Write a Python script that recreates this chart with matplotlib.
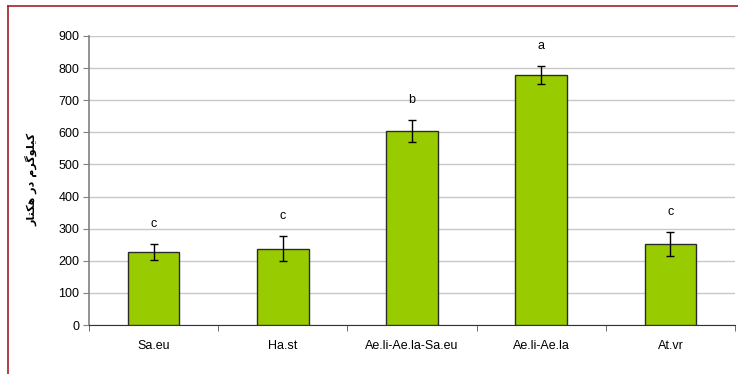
import numpy as np
import matplotlib.pyplot as plt
from matplotlib.lines import Line2D

plt.rcParams['font.family'] = ['Liberation Sans', 'DejaVu Sans']

groups = ['Sa.eu', 'Ha.st', 'Ae.li-Ae.la-Sa.eu', 'Ae.li-Ae.la', 'At.vr']
yields = [227, 237, 604, 778, 252]
errors = [26, 39, 35, 29, 38]
letters = ['c', 'c', 'b', 'a', 'c']
yticks = [0, 100, 200, 300, 400, 500, 600, 700, 800, 900]

# Persian label "کیلوگرم در هکتار" in presentation forms, visual order
ylab = '\uFEAD\uFE8E\uFE98\uFB91\uFEEB \uFEAD\uFEA9 \uFEE1\uFEAE\uFB94\uFEEE\uFEE0\uFBFF\uFB90'

fig = plt.figure(figsize=(7.38, 3.74), dpi=100)
ax = fig.add_axes([0.1206, 0.131, 0.8754, 0.773])

x = np.arange(len(groups))
ax.bar(x, yields, width=0.4, color='#99CC00', edgecolor='#2b2b2b', linewidth=1, zorder=3)
ax.errorbar(x, yields, yerr=errors, fmt='none', ecolor='black', elinewidth=1,
            capsize=3, capthick=1, zorder=4)
for i in range(len(groups)):
    ax.text(x[i], yields[i] + errors[i] + 62, letters[i], ha='center', va='center',
            fontsize=9)

ax.set_xlim(-0.5, len(groups) - 0.5)
ax.set_ylim(0, 900)
ax.set_yticks(yticks)
ax.set_xticks(x)
ax.set_xticklabels(groups, fontsize=9)
ax.set_xticks(np.arange(-0.5, len(groups)), minor=True)
ax.tick_params(axis='x', which='major', length=0, pad=11)
ax.tick_params(axis='x', which='minor', length=4, color='#555555')
ax.tick_params(axis='y', labelsize=9, length=4, color='#808080', pad=3)
ax.yaxis.grid(True, color='#c8c8c8', linewidth=1)
ax.set_axisbelow(True)

for s in ['top', 'right']:
    ax.spines[s].set_visible(False)
ax.spines['left'].set_color('#808080')
ax.spines['left'].set_linewidth(1.2)
ax.spines['bottom'].set_color('#333333')

fig.text(0.043, 0.52, ylab, rotation=90, ha='center', va='center', fontsize=8,
         fontweight='bold', family=['DejaVu Sans'])

# outer frame
fig.add_artist(Line2D([8 / 738, 8 / 738], [0, 1 - 6 / 374], color='#A3202A', linewidth=1.2,
                      transform=fig.transFigure))
fig.add_artist(Line2D([8 / 738, 1], [1 - 6 / 374, 1 - 6 / 374], color='#A3202A', linewidth=1.2,
                      transform=fig.transFigure))

fig.savefig('out.png', dpi=100)
